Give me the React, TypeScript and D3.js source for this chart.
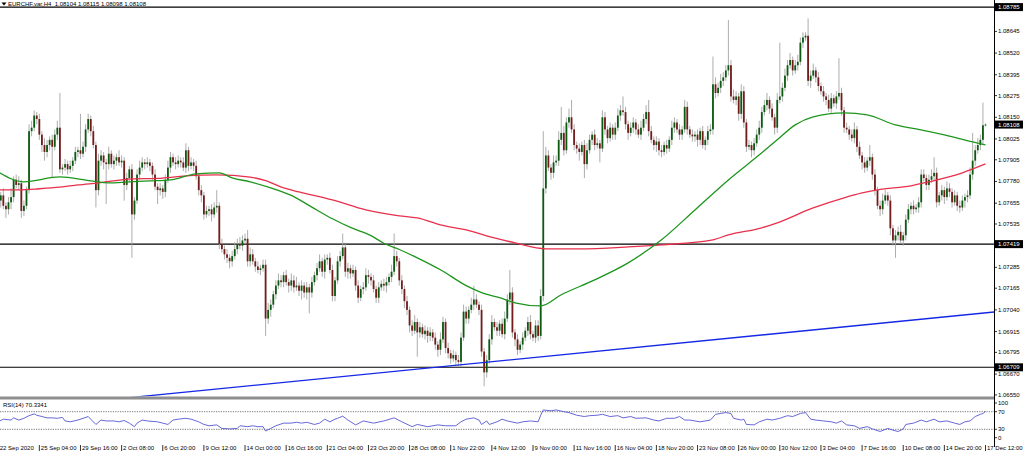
import React from 'react';
import * as d3 from 'd3';

// ---------- DATA ----------
const symbolTitle = 'EURCHF.var,H4  1.08104 1.08115 1.08098 1.08108';
const rsiTitle = 'RSI(14) 70.3341';

const firstOpen = 1.0765;
const closes: number[] = [
  1.0767, 1.0770, 1.0764, 1.0762, 1.0766, 1.0769, 1.0779, 1.0776, 1.0777, 1.0761,
  1.0764, 1.0773, 1.0807, 1.0809, 1.0816, 1.0814, 1.0805, 1.0799, 1.0795, 1.0799,
  1.0802, 1.0798, 1.0805, 1.0809, 1.0785, 1.0786, 1.0788, 1.0785, 1.0787, 1.0790,
  1.0795, 1.0796, 1.0794, 1.0798, 1.0808, 1.0814, 1.0807, 1.0799, 1.0773, 1.0790,
  1.0793, 1.0789, 1.0788, 1.0794, 1.0788, 1.0790, 1.0792, 1.0789, 1.0790, 1.0776,
  1.0780, 1.0785, 1.0759, 1.0767, 1.0782, 1.0786, 1.0789, 1.0788, 1.0789, 1.0787,
  1.0782, 1.0775, 1.0773, 1.0774, 1.0772, 1.0779, 1.0786, 1.0792, 1.0789, 1.0788,
  1.0790, 1.0789, 1.0786, 1.0796, 1.0787, 1.0789, 1.0787, 1.0781, 1.0773, 1.0770,
  1.0759, 1.0761, 1.0762, 1.0759, 1.0763, 1.0764, 1.0742, 1.0739, 1.0736, 1.0734,
  1.0732, 1.0735, 1.0739, 1.0742, 1.0741, 1.0744, 1.0745, 1.0732, 1.0736, 1.0732,
  1.0729, 1.0727, 1.0728, 1.0730, 1.0699, 1.0704, 1.0707, 1.0713, 1.0718, 1.0721,
  1.0720, 1.0724, 1.0720, 1.0718, 1.0721, 1.0717, 1.0718, 1.0715, 1.0718, 1.0714,
  1.0717, 1.0714, 1.0720, 1.0724, 1.0728, 1.0732, 1.0726, 1.0733, 1.0734, 1.0727,
  1.0712, 1.0721, 1.0732, 1.0735, 1.0740, 1.0726, 1.0728, 1.0725, 1.0727, 1.0718,
  1.0711, 1.0716, 1.0717, 1.0724, 1.0723, 1.0721, 1.0716, 1.0711, 1.0717, 1.0719,
  1.0718, 1.0720, 1.0723, 1.0726, 1.0735, 1.0732, 1.0721, 1.0716, 1.0709, 1.0704,
  1.0695, 1.0692, 1.0697, 1.0691, 1.0694, 1.0690, 1.0692, 1.0689, 1.0691, 1.0688,
  1.0684, 1.0681, 1.0687, 1.0697, 1.0682, 1.0679, 1.0676, 1.0678, 1.0675, 1.0674,
  1.0688, 1.0703, 1.0699, 1.0704, 1.0707, 1.0710, 1.0707, 1.0704, 1.0680, 1.0668,
  1.0675, 1.0687, 1.0697, 1.0694, 1.0692, 1.0696, 1.0690, 1.0699, 1.0710, 1.0714,
  1.0691, 1.0687, 1.0681, 1.0684, 1.0688, 1.0692, 1.0697, 1.0690, 1.0688, 1.0695,
  1.0689, 1.0712, 1.0774, 1.0793, 1.0786, 1.0783, 1.0789, 1.0790, 1.0802, 1.0806,
  1.0796, 1.0812, 1.0815, 1.0808, 1.0799, 1.0797, 1.0795, 1.0799, 1.0788, 1.0796,
  1.0802, 1.0805, 1.0799, 1.0800, 1.0797, 1.0815, 1.0808, 1.0803, 1.0809, 1.0805,
  1.0809, 1.0816, 1.0819, 1.0818, 1.0811, 1.0806, 1.0809, 1.0812, 1.0808, 1.0805,
  1.0809, 1.0814, 1.0818, 1.0807, 1.0802, 1.0799, 1.0801, 1.0796, 1.0795, 1.0799,
  1.0797, 1.0802, 1.0809, 1.0812, 1.0808, 1.0805, 1.0808, 1.0821, 1.0808, 1.0805,
  1.0804, 1.0805, 1.0802, 1.0807, 1.0799, 1.0802, 1.0807, 1.0808, 1.0834, 1.0829,
  1.0832, 1.0836, 1.0838, 1.0842, 1.0845, 1.0827, 1.0825, 1.0827, 1.0817, 1.0830,
  1.0812, 1.0798, 1.0799, 1.0796, 1.0800, 1.0805, 1.0809, 1.0818, 1.0822, 1.0825,
  1.0820, 1.0815, 1.0809, 1.0825, 1.0827, 1.0832, 1.0839, 1.0845, 1.0848, 1.0842,
  1.0845, 1.0847, 1.0858, 1.0861, 1.0862, 1.0836, 1.0839, 1.0842, 1.0838, 1.0833,
  1.0830, 1.0827, 1.0825, 1.0820, 1.0826, 1.0823, 1.0827, 1.0829, 1.0819, 1.0809,
  1.0808, 1.0805, 1.0803, 1.0808, 1.0798, 1.0793, 1.0789, 1.0786, 1.0790, 1.0792,
  1.0782, 1.0773, 1.0764, 1.0762, 1.0767, 1.0770, 1.0767, 1.0751, 1.0744, 1.0747,
  1.0749, 1.0744, 1.0747, 1.0756, 1.0762, 1.0764, 1.0762, 1.0763, 1.0766, 1.0782,
  1.0780, 1.0776, 1.0779, 1.0781, 1.0783, 1.0766, 1.0770, 1.0773, 1.0769, 1.0774,
  1.0772, 1.0766, 1.0770, 1.0764, 1.0763, 1.0767, 1.0769, 1.0770, 1.0782, 1.0790,
  1.0796, 1.0799, 1.0802, 1.08104, 1.08108,
];

// upper / lower wick lengths in pips
const upWick: number[] = [
  3,2,4,2,3,5,2,3,4,2,3,2,4,4,3,2,3,2,4,3,
  2,3,3,4,20,2,3,2,3,2,3,2,21,3,3,3,2,3,2,4,
  3,2,2,4,2,3,2,4,3,2,3,2,3,2,3,4,3,2,3,2,
  2,3,2,3,2,3,4,3,2,3,3,2,3,4,2,3,2,3,2,3,
  2,3,2,3,3,9,2,3,2,3,2,3,4,3,4,3,3,5,4,3,
  2,3,2,3,3,4,3,2,3,4,3,2,3,2,4,3,5,2,3,2,
  3,2,3,2,3,4,2,3,2,3,3,2,3,3,8,2,3,2,3,2,
  3,2,3,4,3,2,3,2,3,2,3,3,2,4,13,3,2,3,2,3,
  2,3,4,2,3,2,3,2,3,2,3,2,4,3,2,3,2,3,2,3,
  3,4,3,2,4,8,3,2,3,2,3,3,4,2,3,2,3,4,3,13,
  3,2,3,2,3,2,3,4,2,3,3,4,33,5,3,2,4,3,5,15,
  4,3,5,10,3,2,3,2,3,4,3,2,3,3,2,4,3,2,3,2,
  3,4,3,8,3,2,3,3,2,3,4,3,4,7,3,2,3,2,3,2,
  3,2,4,3,2,3,2,4,3,2,3,2,3,2,3,2,3,3,16,4,
  3,4,3,3,26,3,4,3,2,4,3,2,3,2,3,3,4,3,3,4,
  2,3,2,4,31,3,4,3,4,2,3,4,3,3,2,10,3,4,2,3,
  2,3,2,3,3,2,3,20,3,2,3,2,3,4,2,3,2,3,2,7,
  2,3,2,3,4,3,2,3,2,3,3,4,2,3,3,2,3,2,3,3,
  3,2,3,4,9,3,2,3,2,4,3,2,3,2,3,3,2,3,4,16,
  3,4,3,13,0.7,
];
const loWick: number[] = [
  3,4,2,5,3,4,3,2,3,4,3,2,2,3,2,3,3,4,5,3,
  3,18,2,3,2,3,2,3,2,3,2,3,3,2,3,2,3,2,10,3,
  3,4,23,3,2,3,3,2,3,9,3,2,25,3,2,3,2,3,2,3,
  3,2,8,3,4,3,2,3,2,3,2,3,2,3,3,2,3,2,3,4,
  3,2,3,4,2,3,3,2,3,3,4,3,2,3,2,3,2,3,3,2,
  3,2,3,2,10,3,4,2,3,2,3,3,2,4,3,3,2,3,5,3,
  4,12,3,2,3,2,3,4,3,2,3,3,2,3,2,3,4,3,2,3,
  3,2,3,2,4,3,2,3,3,2,3,4,2,3,2,3,3,3,4,3,
  4,3,2,14,3,2,3,4,3,2,3,4,3,2,3,3,3,2,4,3,
  3,2,3,3,2,3,2,3,3,8,3,2,3,2,3,3,2,3,2,3,
  3,4,3,2,3,2,3,3,2,3,3,2,3,3,2,4,3,2,3,3,
  3,2,3,2,3,3,5,2,8,3,2,3,3,2,8,2,3,3,2,3,
  3,2,3,2,3,4,2,3,3,2,3,2,3,3,2,3,4,3,3,2,
  3,2,3,3,2,3,3,2,3,2,3,3,4,3,2,3,3,2,3,3,
  2,3,3,2,3,3,2,3,4,3,3,3,2,4,3,2,3,3,2,3,
  3,2,4,3,2,3,2,3,2,3,2,3,2,3,2,3,4,2,3,3,
  2,3,3,2,3,2,3,2,3,3,2,3,2,3,3,2,4,3,2,3,
  3,3,2,4,3,2,3,4,3,10,3,2,3,3,2,3,3,2,3,3,
  2,3,3,2,3,3,2,3,4,2,3,3,2,3,3,2,4,3,2,3,
  3,2,3,3,0.6,
];

// moving averages: [bar index, price]
const maGreen: [number, number][] = [
  [0,1.07835],[10,1.07778],[24,1.07806],[36,1.07783],[43,1.07772],[51,1.07778],[59,1.07783],
  [67,1.07789],[77,1.07824],[86,1.07830],[91,1.07801],[98,1.07778],[106,1.07743],[114,1.07700],
  [122,1.07632],[130,1.07565],[137,1.07515],[145,1.07468],[150,1.07424],[156,1.07388],
  [163,1.07340],[172,1.07271],[182,1.07180],[188,1.07140],[195,1.07110],[201,1.07081],
  [211,1.07063],[219,1.07127],[232,1.07213],[245,1.07311],[258,1.07444],[271,1.07616],
  [284,1.07789],[297,1.07945],[303,1.08020],[310,1.08106],[317,1.08152],[329,1.08175],
  [338,1.08164],[349,1.08106],[357,1.08083],[368,1.08048],[379,1.08008],[384,1.07991],
];
const maRed: [number, number][] = [
  [0,1.07732],[8,1.07732],[16,1.07738],[24,1.07747],[31,1.07760],[39,1.07772],[52,1.07795],
  [62,1.07798],[73,1.07812],[85,1.07818],[98,1.07805],[104,1.07785],[111,1.07743],[117,1.07720],
  [130,1.07674],[143,1.07616],[156,1.07582],[163,1.07570],[172,1.07530],[182,1.07501],
  [193,1.07455],[201,1.07426],[213,1.07392],[226,1.07392],[245,1.07403],[258,1.07415],
  [278,1.07444],[284,1.07472],[297,1.07513],[303,1.07542],[317,1.07628],[329,1.07686],
  [336,1.07714],[342,1.07732],[355,1.07755],[362,1.07778],[375,1.07830],[384,1.07881],
];

// trend line anchors [bar index, price]
const trendLine: [number, number][] = [[100, 1.06606], [384, 1.07023]];
const hLevels: number[] = [1.08785, 1.07419, 1.06709];
const lastPrice = 1.08108;

const priceTicks: number[] = [
  1.08645, 1.0852, 1.08395, 1.08275, 1.0815, 1.08025, 1.07905, 1.0778,
  1.07655, 1.07535, 1.07285, 1.07165, 1.0704, 1.06915, 1.06795, 1.0667, 1.0655,
];

const rsiSamples: [number, number][] = [
  [0,47],[2,53],[5,51],[6,56],[8,51],[10,55],[12,61],[14,65],[15,62],[17,59],[19,56],[21,56],
  [23,55],[25,57],[26,49],[28,47],[31,51],[33,55],[35,59],[36,53],[38,41],[40,51],[42,49],
  [45,49],[47,47],[49,50],[51,44],[53,36],[54,44],[56,51],[58,49],[62,47],[64,44],[66,41],
  [68,51],[70,53],[73,55],[75,53],[78,47],[80,41],[82,38],[85,40],[87,32],[90,31],[93,32],
  [94,38],[97,36],[99,38],[101,36],[103,36],[104,26],[106,32],[108,38],[111,44],[114,44],
  [116,46],[118,44],[120,46],[123,41],[125,44],[127,53],[129,47],[131,53],[132,55],[134,60],
  [136,51],[139,40],[142,49],[146,44],[150,49],[154,56],[157,47],[161,36],[163,41],[167,36],
  [171,40],[174,38],[178,38],[180,47],[182,53],[185,56],[187,51],[188,41],[190,49],[191,41],
  [194,47],[196,53],[198,49],[202,44],[204,47],[207,49],[210,47],[211,62],[212,74],[215,72],
  [217,74],[220,70],[222,68],[225,62],[228,59],[230,61],[233,62],[235,64],[238,59],[241,61],
  [243,56],[246,59],[248,55],[252,56],[255,51],[257,49],[259,53],[260,55],[263,55],[265,59],
  [267,51],[269,51],[273,47],[277,51],[279,64],[281,66],[283,68],[285,66],[286,55],[289,51],
  [290,53],[291,41],[294,40],[296,47],[299,53],[301,51],[304,55],[307,61],[309,59],[312,66],
  [314,68],[316,53],[318,51],[321,49],[324,47],[326,44],[328,49],[330,40],[333,38],[335,32],
  [338,36],[340,31],[343,25],[346,32],[348,28],[350,25],[352,31],[353,41],[356,44],[359,51],
  [361,47],[364,53],[366,47],[369,49],[372,44],[374,41],[376,47],[378,49],[380,59],[382,64],
  [383,66],[384,70.33],
];
const rsiLevels: number[] = [70, 30];
const rsiAxisLabels: number[] = [100, 70, 30, 0];

const timeLabels: string[] = [
  '22 Sep 2020', '25 Sep 04:00', '29 Sep 16:00', '2 Oct 08:00', '6 Oct 20:00', '9 Oct 12:00',
  '14 Oct 00:00', '16 Oct 16:00', '21 Oct 04:00', '23 Oct 20:00', '28 Oct 08:00', '1 Nov 22:00',
  '4 Nov 12:00', '9 Nov 00:00', '11 Nov 16:00', '16 Nov 04:00', '18 Nov 20:00', '23 Nov 08:00',
  '26 Nov 00:00', '30 Nov 12:00', '3 Dec 04:00', '7 Dec 16:00', '10 Dec 08:00', '14 Dec 20:00',
  '17 Dec 12:00',
];
const barsPerLabel = 16;

// ---------- LAYOUT ----------
const W = 1024;
const H = 454;
const PLOT_R = 994;
const MAIN_BOT = 396.5;
const RSI_TOP = 399.5;
const RSI_BOT = 444;
const FONT = '"Liberation Sans", Arial, sans-serif';
const FS = 6;

const N = closes.length;
const x = d3.scaleLinear().domain([0, N - 1]).range([-1.8, 985.5]);
const y = d3.scaleLinear().domain([1.0655, 1.08785]).range([394.9, 7.1]);
const yr = d3.scaleLinear().domain([30, 70]).range([429.3, 411.7]);

const PIP = 0.0001;

export default function App() {
  const opens = closes.map((c, i) => (i === 0 ? firstOpen : closes[i - 1]));
  const bars = closes.map((c, i) => {
    const o = opens[i];
    const hi = Math.max(o, c) + upWick[i] * PIP;
    const lo = Math.min(o, c) - loWick[i] * PIP;
    return { i, o, c, hi, lo };
  });

  const maLine = d3
    .line<[number, number]>()
    .x((d) => x(d[0]))
    .y((d) => y(d[1]))
    .curve(d3.curveMonotoneX);

  const rsiLine = d3
    .line<[number, number]>()
    .x((d) => x(d[0]))
    .y((d) => yr(d[1]));

  const [t1, t2] = trendLine;
  const slope = (t2[1] - t1[1]) / (t2[0] - t1[0]);
  const tA = -20;
  const tB = N + 20;
  const trendPath = `M${x(tA)},${y(t1[1] + slope * (tA - t1[0]))}L${x(tB)},${y(t1[1] + slope * (tB - t1[0]))}`;

  const bodyW = 1.8;

  const rsiLabelY = (v: number) => {
    if (v === 100) return yr(100) + 4.5;
    if (v === 0) return yr(0) - 4.8;
    return yr(v);
  };

  return (
    <svg
      width={W}
      height={H}
      viewBox={`0 0 ${W} ${H}`}
      style={{ position: 'absolute', left: 0, top: 0, display: 'block', background: '#fff' }}
    >
      <defs>
        <clipPath id="mainClip">
          <rect x={0} y={0} width={PLOT_R} height={MAIN_BOT} />
        </clipPath>
        <clipPath id="rsiClip">
          <rect x={0} y={RSI_TOP} width={PLOT_R} height={RSI_BOT - RSI_TOP} />
        </clipPath>
      </defs>
      <rect x={0} y={0} width={W} height={H} fill="#ffffff" />

      {/* main panel */}
      <g clipPath="url(#mainClip)">
        {hLevels.map((lv) => (
          <line key={lv} x1={0} x2={PLOT_R} y1={y(lv)} y2={y(lv)} stroke="#000" strokeWidth={1.1} />
        ))}
        {bars.map((b) => (
          <line
            key={'w' + b.i}
            x1={x(b.i)}
            x2={x(b.i)}
            y1={y(b.hi)}
            y2={y(b.lo)}
            stroke="#a4a4a4"
            strokeWidth={0.9}
          />
        ))}
        {bars.map((b) => {
          const top = y(Math.max(b.o, b.c));
          const bot = y(Math.min(b.o, b.c));
          const hgt = Math.max(0.9, bot - top);
          const up = b.c >= b.o;
          return (
            <rect
              key={'b' + b.i}
              x={x(b.i) - bodyW / 2}
              y={top}
              width={bodyW}
              height={hgt}
              fill={up ? '#0c5a10' : '#731c1c'}
            />
          );
        })}
        <path d={maLine(maRed) || ''} fill="none" stroke="#e8304c" strokeWidth={1.3} />
        <path d={maLine(maGreen) || ''} fill="none" stroke="#1e961e" strokeWidth={1.3} />
        <path d={trendPath} fill="none" stroke="#1428e6" strokeWidth={1.3} />
      </g>

      {/* separator */}
      <rect x={0} y={MAIN_BOT} width={PLOT_R} height={RSI_TOP - MAIN_BOT} fill="#8e8e8e" />

      {/* title */}
      <path d="M1.5,2.6 L6.5,2.6 L4,5.4 Z" fill="#000" />
      <text x={8} y={4} fontFamily={FONT} fontSize={FS} dominantBaseline="central" fill="#000" xmlSpace="preserve" style={{ whiteSpace: 'pre' }}>
        {symbolTitle}
      </text>

      {/* RSI panel */}
      <g clipPath="url(#rsiClip)">
        {rsiLevels.map((lv) => (
          <line
            key={lv}
            x1={0}
            x2={PLOT_R}
            y1={yr(lv)}
            y2={yr(lv)}
            stroke="#505050"
            strokeWidth={0.8}
            strokeDasharray="1.2,1.2"
          />
        ))}
        <path d={rsiLine(rsiSamples) || ''} fill="none" stroke="#5656d4" strokeWidth={0.9} />
      </g>
      <text x={3} y={404.5} fontFamily={FONT} fontSize={FS} dominantBaseline="central" fill="#000">
        {rsiTitle}
      </text>

      {/* price axis */}
      <line x1={PLOT_R + 0.5} x2={PLOT_R + 0.5} y1={0} y2={447} stroke="#000" strokeWidth={1} />
      {priceTicks.map((p) => (
        <g key={p}>
          <line x1={PLOT_R} x2={PLOT_R + 3} y1={y(p)} y2={y(p)} stroke="#000" strokeWidth={0.8} />
          <text x={PLOT_R + 4} y={y(p)} fontFamily={FONT} fontSize={FS} dominantBaseline="central" fill="#000">
            {p.toFixed(5)}
          </text>
        </g>
      ))}
      {[...hLevels, lastPrice].map((p) => (
        <g key={'box' + p}>
          <rect x={PLOT_R + 1} y={y(p) - 4} width={28} height={8} fill="#000" />
          <text x={PLOT_R + 4} y={y(p)} fontFamily={FONT} fontSize={FS} dominantBaseline="central" fill="#fff">
            {p.toFixed(5)}
          </text>
        </g>
      ))}
      {rsiAxisLabels.map((v) => (
        <g key={'r' + v}>
          <line x1={PLOT_R} x2={PLOT_R + 3} y1={rsiLabelY(v)} y2={rsiLabelY(v)} stroke="#000" strokeWidth={0.8} />
          <text x={PLOT_R + 4} y={rsiLabelY(v)} fontFamily={FONT} fontSize={FS} dominantBaseline="central" fill="#000">
            {v}
          </text>
        </g>
      ))}

      {/* time axis */}
      {timeLabels.map((lab, k) => {
        const xi = x(k * barsPerLabel);
        return (
          <g key={lab}>
            <line x1={xi} x2={xi} y1={445} y2={451} stroke="#000" strokeWidth={0.8} />
            <text x={xi + 1.5} y={448.3} fontFamily={FONT} fontSize={FS} dominantBaseline="central" fill="#000">
              {lab}
            </text>
          </g>
        );
      })}
    </svg>
  );
}
